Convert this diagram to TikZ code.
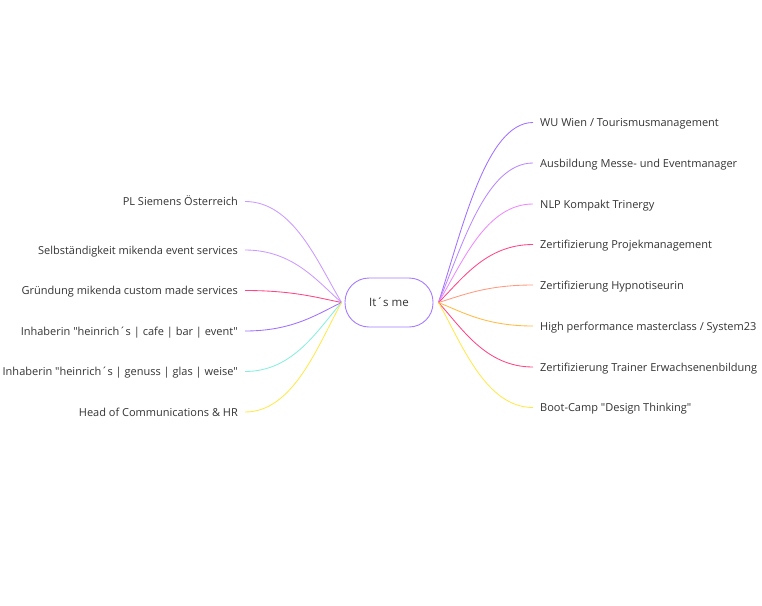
\documentclass[tikz,border=0pt]{standalone}
\usepackage{fontspec}
\setmainfont{Open Sans}[Ligatures=TeXOff]
\usetikzlibrary{calc}
\definecolor{txt}{HTML}{333333}
\definecolor{cborder}{HTML}{A57CFF}
\definecolor{cviolet}{HTML}{A070FF}
\definecolor{clviolet}{HTML}{BB88FF}
\definecolor{cpviolet}{HTML}{CC99FF}
\definecolor{cpink}{HTML}{EE88FF}
\definecolor{cred}{HTML}{FF4488}
\definecolor{csalmon}{HTML}{FF9980}
\definecolor{corange}{HTML}{FFBB44}
\definecolor{cyellow}{HTML}{FFE84D}
\definecolor{ccyan}{HTML}{88EEDD}
\tikzset{
  lbl/.style={font=\fontsize{11pt}{13pt}\selectfont, text=txt, inner xsep=7pt, inner ysep=2pt, text height=8pt, text depth=0pt},
  rlbl/.style={lbl, anchor=west},
  llbl/.style={lbl, anchor=east},
  center/.style={draw=cborder, line width=0.9pt, rounded corners=24pt, minimum width=88pt, minimum height=49pt, font=\fontsize{11.5pt}{14pt}\selectfont, text=txt, text height=8pt, text depth=0pt},
  branch/.style={line width=0.85pt, to path={let \p1=(\tikztostart), \p2=(\tikztotarget) in .. controls ({\x1+0.25*(\x2-\x1)},{\y1+0.4*(\y2-\y1)}) and ({0.5*(\x1+\x2)},\y2) .. (\tikztotarget)}}
}
\begin{document}
\begin{tikzpicture}[x=1pt,y=-1pt]
\useasboundingbox (0,0) rectangle (762,605);
\node[center] (c) at (389,302.5) {It´s me};
\coordinate (cr) at ($(c.east)+(5,0)$);
\coordinate (cl) at ($(c.west)+(-3,0)$);
% right
\node[rlbl] (r1) at (533,122.5) {WU Wien / Tourismusmanagement};
\node[rlbl] (r2) at (533,163) {Ausbildung Messe- und Eventmanager};
\node[rlbl] (r3) at (533,204) {NLP Kompakt Trinergy};
\node[rlbl] (r4) at (533,244.5) {Zertifizierung Projekmanagement};
\node[rlbl] (r5) at (533,285) {Zertifizierung Hypnotiseurin};
\node[rlbl] (r6) at (533,326) {High performance masterclass / System23};
\node[rlbl] (r7) at (533,367) {Zertifizierung Trainer Erwachsenenbildung};
\node[rlbl] (r8) at (533,407.5) {Boot-Camp "Design Thinking"};
% left
\node[llbl] (l1) at (245,201.5) {PL Siemens Österreich};
\node[llbl] (l2) at (245,250) {Selbständigkeit mikenda event services};
\node[llbl] (l3) at (245,290.5) {Gründung mikenda custom made services};
\node[llbl] (l4) at (245,331) {Inhaberin "heinrich´s | cafe | bar | event"};
\node[llbl] (l5) at (245,371.5) {Inhaberin "heinrich´s | genuss | glas | weise"};
\node[llbl] (l6) at (245,412) {Head of Communications \& HR};
% connectors right
\draw[branch, cviolet] (cr) to (r1.west);
\draw[branch, clviolet] (cr) to (r2.west);
\draw[branch, cpink] (cr) to (r3.west);
\draw[branch, cred] (cr) to (r4.west);
\draw[branch, csalmon] (cr) to (r5.west);
\draw[branch, corange] (cr) to (r6.west);
\draw[branch, cred] (cr) to (r7.west);
\draw[branch, cyellow] (cr) to (r8.west);
% connectors left
\draw[branch, cpviolet] (cl) to (l1.east);
\draw[branch, cpviolet] (cl) to (l2.east);
\draw[branch, cred] (cl) to (l3.east);
\draw[branch, cviolet] (cl) to (l4.east);
\draw[branch, ccyan] (cl) to (l5.east);
\draw[branch, cyellow] (cl) to (l6.east);
\end{tikzpicture}
\end{document}
